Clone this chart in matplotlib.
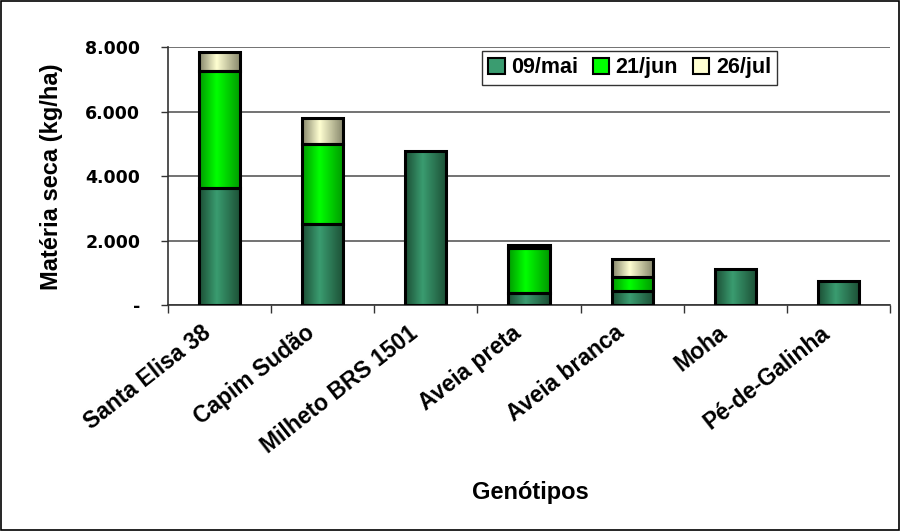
import numpy as np
import matplotlib
matplotlib.use("Agg")
import matplotlib.pyplot as plt
import matplotlib.transforms as mtransforms
from matplotlib.colors import LinearSegmentedColormap
from matplotlib.patches import Patch, Rectangle
from matplotlib.ticker import FuncFormatter

plt.rcParams['font.family'] = ['Liberation Sans', 'DejaVu Sans']
plt.rcParams['font.weight'] = 'bold'

# dry matter per cutting date (kg/ha)
genotipos = ['Santa Elisa 38', 'Capim Sudão', 'Milheto BRS 1501', 'Aveia preta',
             'Aveia branca', 'Moha', 'Pé-de-Galinha']
mai_09 = [3630, 2510, 4790, 370, 450, 1130, 750]
jun_21 = [3630, 2500, 0, 1400, 440, 0, 0]
jul_26 = [580, 790, 0, 100, 540, 0, 0]
series = ['09/mai', '21/jun', '26/jul']

# edge / highlight colours for the cylinder-like shading
shades = [('#1c4f35', '#3a9c70'),
          ('#009a00', '#00ff00'),
          ('#85856a', '#ffffd2')]

fig = plt.figure(figsize=(9, 5.31), dpi=100)
ax = fig.add_axes([168/900, 1 - 305.3/531, (890-168)/900, (305.3-47.3)/531])

x = np.arange(len(genotipos))
width = 0.40
bottom = np.zeros(len(genotipos))
grad = np.linspace(0, 1, 64).reshape(1, -1)

for vals, (edge, mid) in zip([mai_09, jun_21, jul_26], shades):
    cmap = LinearSegmentedColormap.from_list('s', [(0, edge), (0.42, mid), (1, edge)])
    bars = ax.bar(x, vals, width, bottom=bottom, color='none', edgecolor='none')
    for b in bars:
        if b.get_height() <= 0:
            continue
        x0, y0 = b.get_x(), b.get_y()
        w, h = b.get_width(), b.get_height()
        im = ax.imshow(grad, cmap=cmap, aspect='auto', extent=(x0, x0 + w, y0, y0 + h),
                       zorder=2, interpolation='bilinear')
        im.set_clip_path(b)
        ax.add_patch(Rectangle((x0, y0), w, h, fill=False, edgecolor='black',
                               linewidth=2.2, zorder=3))
    bottom += np.array(vals)

ax.set_xlim(-0.5, len(genotipos) - 0.5)
ax.set_ylim(0, 8000)
ax.set_yticks([0, 2000, 4000, 6000, 8000])
ax.yaxis.set_major_formatter(FuncFormatter(
    lambda v, p: '-' if v == 0 else f'{int(v):,}'.replace(',', '.')))
ax.yaxis.grid(True, color='#5a5a5a', linewidth=1.2)
ax.set_axisbelow(True)
ax.tick_params(axis='y', length=5, width=1, pad=15, color='#333333')
for t in ax.get_yticklabels():
    t.set_fontfamily('DejaVu Sans')
    t.set_fontsize(12.5)
    t.set_fontweight('bold')

ax.set_xticks(np.arange(len(genotipos) + 1) - 0.5)
ax.set_xticklabels([])
ax.set_xticks(x, minor=True)
ax.set_xticklabels(genotipos, minor=True, rotation=38, ha='right', va='center',
                   rotation_mode='anchor', fontsize=16.5, fontweight='bold')
ax.tick_params(axis='x', which='minor', length=0, pad=18)
ax.tick_params(axis='x', which='major', length=6, width=1, direction='out', color='#333333')
shift = mtransforms.ScaledTranslation(-11/100, 0, fig.dpi_scale_trans)
for t in ax.get_xticklabels(minor=True):
    t.set_transform(t.get_transform() + shift)

for s in ['top', 'right']:
    ax.spines[s].set_visible(False)
for s in ['left', 'bottom']:
    ax.spines[s].set_color('#333333')
    ax.spines[s].set_linewidth(1.2)

fig.text(52/900, 1 - 177/531, 'Matéria seca (kg/ha)', rotation=90, ha='center',
         va='center', fontsize=17, fontweight='bold')
fig.text(530/900, 1 - 492/531, 'Genótipos', ha='center', va='center',
         fontsize=17, fontweight='bold')

handles = [Patch(facecolor=m, edgecolor='black', linewidth=1.5) for e, m in shades]
leg = ax.legend(handles, series, loc='upper left', bbox_to_anchor=(482/900, 1 - 51/531),
                bbox_transform=fig.transFigure, ncol=3, fontsize=15.5, frameon=True,
                fancybox=False, handlelength=0.75, handleheight=0.75, handletextpad=0.3,
                columnspacing=0.7, borderpad=0.3, borderaxespad=0)
leg.get_frame().set_edgecolor('black')
leg.get_frame().set_linewidth(1)
for t in leg.get_texts():
    t.set_fontweight('bold')

# outer chart border
fig.patches.append(Rectangle((0.001, 0.002), 0.998, 0.996, transform=fig.transFigure,
                             fill=False, edgecolor='black', linewidth=1.2))

fig.savefig('out.png', dpi=100)
